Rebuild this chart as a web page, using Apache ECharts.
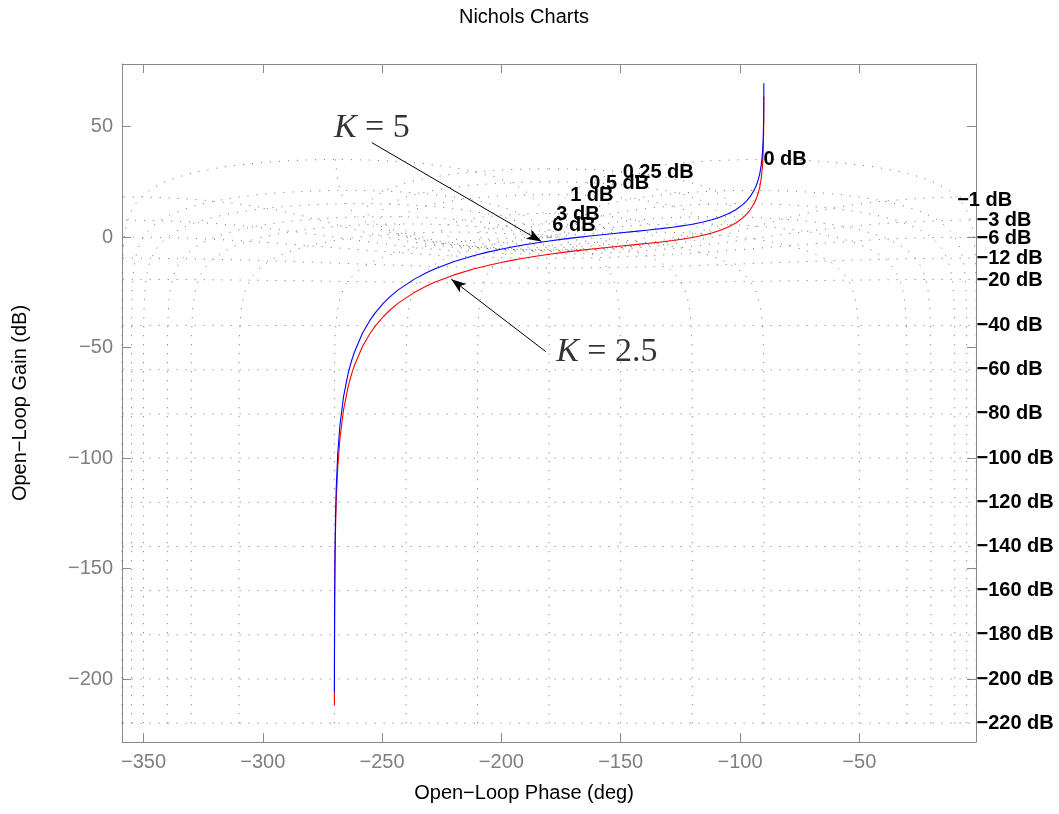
<!DOCTYPE html>
<html>
<head>
<meta charset="utf-8">
<script src="https://cdn.jsdelivr.net/npm/echarts@6/dist/echarts.min.js"></script>
<style>
html,body{margin:0;padding:0;background:#fff;}
#c{width:1059px;height:814px;}
</style>
</head>
<body>
<div id="c"></div>
<script>
// ---- open-loop response (phase in deg, gain in dB) ----
const phaseDeg = [-90.015,-90.029,-90.057,-90.115,-90.29,-90.57,-91.15,-91.72,-92.29,-93.16,-94.02,-95.77,-97.24,-98.72,-101.77,-104.93,-108.25,-111.75,-115.46,-119.43,-123.69,-128.26,-133.15,-138.38,-143.93,-149.74,-155.77,-161.92,-168.08,-174.14,-180.00,-185.58,-190.81,-195.66,-200.14,-205.76,-211.35,-219.81,-228.03,-231.22,-236.31,-243.24,-246.77,-249.44,-252.72,-255.07,-258.23,-261.70,-262.76,-264.23,-266.17,-267.71,-268.57,-269.18,-269.52,-269.77,-269.89,-269.94,-269.98];
const gainK5 = [69.67,64.32,58.30,52.28,44.32,38.30,32.28,28.76,26.26,23.50,21.42,18.34,16.43,14.87,12.45,10.60,9.13,7.91,6.88,6.00,5.22,4.52,3.87,3.25,2.64,2.02,1.37,0.68,-0.06,-0.86,-1.70,-2.59,-3.51,-4.46,-5.42,-6.76,-8.29,-11.04,-14.42,-15.98,-18.86,-23.84,-27.04,-29.88,-34.01,-37.56,-43.47,-52.32,-55.82,-61.66,-72.25,-85.57,-97.82,-112.41,-126.45,-145.58,-163.64,-181.70,-205.99];
const gainK25 = [63.65,58.30,52.28,46.26,38.30,32.28,26.26,22.74,20.24,17.48,15.40,12.32,10.41,8.85,6.43,4.58,3.11,1.89,0.86,-0.02,-0.80,-1.50,-2.15,-2.77,-3.38,-4.00,-4.65,-5.34,-6.08,-6.88,-7.72,-8.61,-9.53,-10.48,-11.44,-12.78,-14.31,-17.06,-20.44,-22.00,-24.88,-29.86,-33.06,-35.90,-40.03,-43.58,-49.49,-58.34,-61.84,-67.68,-78.27,-91.59,-103.84,-118.43,-132.47,-151.60,-169.66,-187.72,-212.01];

// ---- axes ----
const xTicks = [-350,-300,-250,-200,-150,-100,-50];
const yTicks = [-200,-150,-100,-50,0,50];

// ---- Nichols grid levels (closed-loop gain dB, closed-loop phase deg) ----
const gridGainLevels = [6,3,1,0.5,0.25,0,-1,-3,-6,-12,-20,-40,-60,-80,-100,-120,-140,-160,-180,-200,-220];
const gridPhaseLevels = [-1,-5,-10,-20,-30,-50,-90,-120,-150,-180,-210,-240,-270,-310,-330,-340,-350,-355,-359];

// ---- grid labels ----
const gridLabelText = ['6 dB','3 dB','1 dB','0.5 dB','0.25 dB','0 dB','\u22121 dB','\u22123 dB','\u22126 dB','\u221212 dB','\u221220 dB','\u221240 dB','\u221260 dB','\u221280 dB','\u2212100 dB','\u2212120 dB','\u2212140 dB','\u2212160 dB','\u2212180 dB','\u2212200 dB','\u2212220 dB'];
const gridLabelPhase = [-178.9,-177.2,-171.4,-163.4,-149.4,-90.4,-9.2,-1.1,-1.1,-1.1,-1.1,-1.1,-1.1,-1.1,-1.1,-1.1,-1.1,-1.1,-1.1,-1.1,-1.1];
const gridLabelGain = [5.3,10.5,18.7,24.1,29.1,35.0,16.4,7.4,-0.5,-9.7,-19.5,-40.1,-60,-80,-100,-120,-140,-160,-180,-200,-220];

// ---- annotations ----
const annoK = ['5','2.5'];
const annoTextPos = [[-254.3,49.4],[-155.8,-51.9]];
const annoArrowFrom = [[-254.3,42.8],[-181.4,-51.8]];
const annoArrowTo = [[-183.2,-2.0],[-221.0,-19.0]];

const X_MIN = -359, X_MAX = -1.1, Y_MIN = -228.5, Y_MAX = 78.4;
const FONT = 'Liberation Sans, Arial, Helvetica, sans-serif';
const SERIF = 'Liberation Serif, Times New Roman, serif';
const AXIS_GRAY = '#8a8a8a';
const TICK_GRAY = '#7f7f7f';

function clToOl(mag, thDeg) {
  const t = thDeg * Math.PI / 180;
  const a = mag * Math.cos(t), b = mag * Math.sin(t);
  const den = (1 - a) * (1 - a) + b * b;
  const re = (a * (1 - a) - b * b) / den, im = b / den;
  let ph = Math.atan2(im, re) * 180 / Math.PI;
  if (ph > 0) ph -= 360;
  return [ph, 20 * Math.log10(Math.hypot(re, im))];
}

const gridStyle = {color: '#6e6e6e', width: 1, type: [1, 8], cap: 'butt'};
const gridSeries = [];
gridGainLevels.forEach(M => {
  const pts = [];
  if (M === 0) {
    for (let th = -359; th <= -1.0001; th += 0.25) pts.push(clToOl(1, th));
    pts.push(clToOl(1, -1));
  } else {
    const m = Math.pow(10, M / 20), N = 1440;
    for (let k = 0; k <= N; k++) pts.push(clToOl(m, -180 * (1 - Math.cos(Math.PI * k / N))));
  }
  gridSeries.push({type: 'line', data: pts, showSymbol: false, silent: true, z: 1, clip: true,
    lineStyle: gridStyle, animation: false});
});
const magSteps = [];
(function(){
  const r = [[-220,-40,2],[-40,-6,0.25],[-6,-1,0.05],[-1,1,0.002],[1,6,0.05],[6,40,0.25],[40,80,2]];
  r.forEach(([a,b,s]) => { for (let d = a; d < b - 1e-9; d += s) magSteps.push(d); });
  magSteps.push(80);
})();
gridPhaseLevels.forEach(P => {
  const pts = magSteps.map(d => clToOl(Math.pow(10, d / 20), P));
  gridSeries.push({type: 'line', data: pts, showSymbol: false, silent: true, z: 1, clip: true,
    lineStyle: gridStyle, animation: false});
});

const minusFmt = v => v < 0 ? '\u2212' + Math.abs(v) : String(v);

function xAx(pos, showLabel) {
  return {type: 'value', position: pos, min: X_MIN, max: X_MAX,
    splitLine: {show: false},
    axisLine: {show: true, onZero: false, lineStyle: {color: AXIS_GRAY, width: 1}},
    axisTick: {show: true, inside: true, length: 9, customValues: xTicks, lineStyle: {color: AXIS_GRAY}},
    axisLabel: {show: showLabel, customValues: xTicks, formatter: minusFmt, color: TICK_GRAY,
      fontSize: 20, fontFamily: FONT, margin: 10}};
}
function yAx(pos, showLabel) {
  return {type: 'value', position: pos, min: Y_MIN, max: Y_MAX,
    splitLine: {show: false},
    axisLine: {show: true, onZero: false, lineStyle: {color: AXIS_GRAY, width: 1}},
    axisTick: {show: true, inside: true, length: 9, customValues: yTicks, lineStyle: {color: AXIS_GRAY}},
    axisLabel: {show: showLabel, customValues: yTicks, formatter: minusFmt, color: TICK_GRAY,
      fontSize: 20, fontFamily: FONT, margin: 9}};
}

const chart = echarts.init(document.getElementById('c'), null, {renderer: 'canvas'});
chart.setOption({
  backgroundColor: '#ffffff',
  animation: false,
  grid: {left: 122, right: 83, top: 64, bottom: 72, containLabel: false},
  xAxis: [xAx('bottom', true), xAx('top', false)],
  yAxis: [yAx('left', true), yAx('right', false)],
  graphic: [
    {type: 'text', x: 524, y: 17, style: {text: 'Nichols Charts', fill: '#000', fontSize: 20, fontFamily: FONT, align: 'center', verticalAlign: 'middle'}},
    {type: 'text', x: 524, y: 793, style: {text: 'Open\u2212Loop Phase (deg)', fill: '#000', fontSize: 20, fontFamily: FONT, align: 'center', verticalAlign: 'middle'}},
    {type: 'text', x: 20, y: 403, rotation: Math.PI / 2, style: {text: 'Open\u2212Loop Gain (dB)', fill: '#000', fontSize: 20, fontFamily: FONT, align: 'center', verticalAlign: 'middle'}}
  ],
  series: gridSeries.concat([
    {type: 'line', name: 'K=2.5', data: phaseDeg.map((p, i) => [p, gainK25[i]]), showSymbol: false, z: 3,
      lineStyle: {color: '#ff0000', width: 1.1}},
    {type: 'line', name: 'K=5', data: phaseDeg.map((p, i) => [p, gainK5[i]]), showSymbol: false, z: 4,
      lineStyle: {color: '#0000ff', width: 1.1}},
    {type: 'scatter', data: gridLabelText.map((t, i) => [gridLabelPhase[i], gridLabelGain[i], t]),
      symbolSize: 1, itemStyle: {color: 'rgba(0,0,0,0)'}, clip: false, silent: true, z: 6,
      label: {show: true, position: 'right', distance: 0, formatter: p => p.data[2],
        fontFamily: FONT, fontWeight: 'bold', fontSize: 20, color: '#000000', textBorderWidth: 0, opacity: 1}},
    {type: 'scatter', data: annoK.map((k, i) => [annoTextPos[i][0], annoTextPos[i][1], k]),
      symbolSize: 1, itemStyle: {color: 'rgba(0,0,0,0)'}, clip: false, silent: true, z: 6,
      label: {show: true, position: 'inside', formatter: p => '{k|K}{r| = ' + p.data[2] + '}',
        rich: {k: {fontFamily: SERIF, fontStyle: 'italic', fontSize: 34, color: '#000'},
               r: {fontFamily: SERIF, fontSize: 34, color: '#000'}}}},
    {type: 'line', data: [], silent: true, z: 5,
      markLine: {silent: true, symbol: ['none', 'arrow'], symbolSize: [8, 15], animation: false,
        label: {show: false}, lineStyle: {color: '#000', width: 1, type: 'solid'},
        data: annoArrowFrom.map((f, i) => [{coord: f}, {coord: annoArrowTo[i]}])}}
  ])
});
</script>
</body>
</html>
